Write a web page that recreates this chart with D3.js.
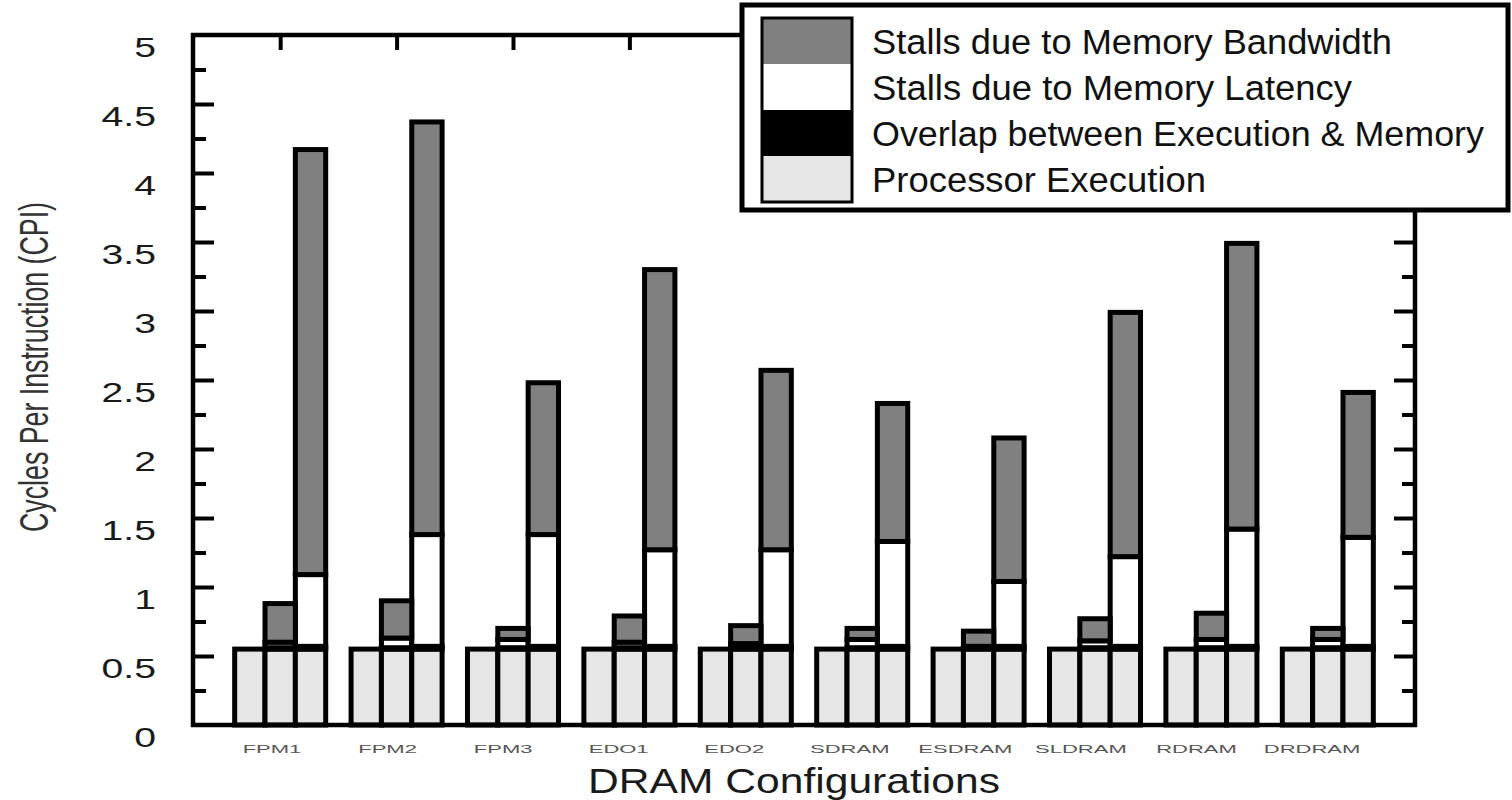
<!DOCTYPE html>
<html>
<head>
<meta charset="utf-8">
<script src="https://cdn.jsdelivr.net/npm/d3@7"></script>
<style>
  html, body { margin: 0; padding: 0; background: #fff; }
  svg { display: block; font-family: "Liberation Sans", Arial, sans-serif; }
</style>
</head>
<body>
<svg id="chart" width="1512" height="800"></svg>
<script>
// DRAM configurations along the x axis
const configs = ["FPM1", "FPM2", "FPM3", "EDO1", "EDO2", "SDRAM", "ESDRAM", "SLDRAM", "RDRAM", "DRDRAM"];
// three bars per configuration
const variants = ["a", "b", "c"];

// CPI components, one value per configuration
const executionA = [0.55, 0.55, 0.55, 0.55, 0.55, 0.55, 0.55, 0.55, 0.55, 0.55];
const overlapA   = [0, 0, 0, 0, 0, 0, 0, 0, 0, 0];
const latencyA   = [0, 0, 0, 0, 0, 0, 0, 0, 0, 0];
const bandwidthA = [0, 0, 0, 0, 0, 0, 0, 0, 0, 0];

const executionB = [0.55, 0.55, 0.55, 0.55, 0.55, 0.55, 0.55, 0.55, 0.55, 0.55];
const overlapB   = [0.01, 0.01, 0.01, 0.01, 0.01, 0.01, 0.02, 0.01, 0.01, 0.01];
const latencyB   = [0.04, 0.07, 0.06, 0.04, 0.03, 0.06, 0.00, 0.05, 0.06, 0.06];
const bandwidthB = [0.28, 0.27, 0.08, 0.19, 0.13, 0.08, 0.11, 0.16, 0.19, 0.08];

const executionC = [0.55, 0.55, 0.55, 0.55, 0.55, 0.55, 0.55, 0.55, 0.55, 0.55];
const overlapC   = [0.02, 0.02, 0.02, 0.02, 0.02, 0.02, 0.02, 0.02, 0.02, 0.02];
const latencyC   = [0.52, 0.81, 0.81, 0.70, 0.70, 0.76, 0.47, 0.65, 0.85, 0.79];
const bandwidthC = [3.08, 2.99, 1.10, 2.03, 1.30, 1.00, 1.04, 1.77, 2.07, 1.05];

const yTicks = [0, 0.5, 1, 1.5, 2, 2.5, 3, 3.5, 4, 4.5, 5];
const yTickLabels = ["0", "0.5", "1", "1.5", "2", "2.5", "3", "3.5", "4", "4.5", "5"];
const yMinorTicks = [0.25, 0.75, 1.25, 1.75, 2.25, 2.75, 3.25, 3.75, 4.25, 4.75];

const seriesKeys = ["execution", "overlap", "latency", "bandwidth"];
const seriesColors = { execution: "#e6e6e6", overlap: "#000000", latency: "#ffffff", bandwidth: "#808080" };
const legendLabels = [
  { key: "bandwidth", text: "Stalls due to Memory Bandwidth", len: 520 },
  { key: "latency", text: "Stalls due to Memory Latency", len: 480 },
  { key: "overlap", text: "Overlap between Execution & Memory", len: 612 },
  { key: "execution", text: "Processor Execution", len: 334 }
];

const bySeries = {
  a: [executionA, overlapA, latencyA, bandwidthA],
  b: [executionB, overlapB, latencyB, bandwidthB],
  c: [executionC, overlapC, latencyC, bandwidthC]
};

// one row per bar
const rows = [];
configs.forEach((cfg, i) => {
  variants.forEach(v => {
    const row = { config: cfg, variant: v };
    seriesKeys.forEach((k, j) => { row[k] = bySeries[v][j][i]; });
    rows.push(row);
  });
});

const svg = d3.select("#chart");
const plot = { left: 193, right: 1415, top: 35, bottom: 725 };

const y = d3.scaleLinear().domain([0, 5]).range([plot.bottom, plot.top]);
const xGroup = d3.scaleBand().domain(configs).range([plot.left, plot.right])
  .paddingInner(0.218).paddingOuter(0.358);
const xBar = d3.scaleBand().domain(variants).range([0, xGroup.bandwidth()]).padding(0);
const xLabel = d3.scalePoint().domain(configs).range([272, 1312]);

// stacked bars
const stacked = d3.stack().keys(seriesKeys)(rows);
const segs = [];
stacked.forEach(layer => {
  layer.forEach(d => {
    if (d[1] - d[0] > 0) segs.push({ key: layer.key, y0: d[0], y1: d[1], row: d.data });
  });
});

svg.append("g").selectAll("rect").data(segs).join("rect")
  .attr("x", d => xGroup(d.row.config) + xBar(d.row.variant))
  .attr("width", xBar.bandwidth())
  .attr("y", d => y(d.y1))
  .attr("height", d => y(d.y0) - y(d.y1))
  .attr("fill", d => seriesColors[d.key])
  .attr("stroke", "#000")
  .attr("stroke-width", 5);

// frame
svg.append("rect")
  .attr("x", plot.left).attr("y", plot.top)
  .attr("width", plot.right - plot.left).attr("height", plot.bottom - plot.top)
  .attr("fill", "none").attr("stroke", "#000").attr("stroke-width", 4.5);

function styleAxis(g) {
  g.select(".domain").remove();
  g.selectAll(".tick line").attr("stroke", "#000").attr("stroke-width", 4);
  g.selectAll(".tick text").remove();
}

// inward ticks on the left and right
svg.append("g").attr("transform", `translate(${plot.left},0)`)
  .call(d3.axisRight(y).tickValues(yTicks.slice(1, -1)).tickSize(21)).call(styleAxis);
svg.append("g").attr("transform", `translate(${plot.left},0)`)
  .call(d3.axisRight(y).tickValues(yMinorTicks).tickSize(13)).call(styleAxis);
svg.append("g").attr("transform", `translate(${plot.right},0)`)
  .call(d3.axisLeft(y).tickValues(yTicks.slice(1, -1)).tickSize(21)).call(styleAxis);
svg.append("g").attr("transform", `translate(${plot.right},0)`)
  .call(d3.axisLeft(y).tickValues(yMinorTicks).tickSize(13)).call(styleAxis);

// ticks hanging from the top edge at each configuration
const xCenter = d3.scalePoint().domain(configs)
  .range([xGroup(configs[0]) + xGroup.bandwidth() / 2, xGroup(configs[configs.length - 1]) + xGroup.bandwidth() / 2]);
svg.append("g").attr("transform", `translate(0,${plot.top})`)
  .call(d3.axisBottom(xCenter).tickSize(15)).call(styleAxis);

// y tick labels
svg.append("g").selectAll("text").data(yTicks).join("text")
  .attr("transform", (d) => `translate(156,${y(d) + 12}) scale(1.45,1)`)
  .attr("text-anchor", "end")
  .attr("dy", "0.36em")
  .attr("font-size", 27)
  .attr("fill", "#1a1a1a")
  .text((d, i) => yTickLabels[i]);

// x tick labels
svg.append("g").selectAll("text").data(configs).join("text")
  .attr("transform", d => `translate(${xLabel(d)},749) scale(2,1)`)
  .attr("text-anchor", "middle")
  .attr("dy", "0.36em")
  .attr("font-size", 11)
  .attr("fill", "#555")
  .text(d => d);

// axis titles
svg.append("text")
  .attr("x", 588).attr("y", 793)
  .attr("font-size", 35)
  .attr("fill", "#1a1a1a")
  .attr("textLength", 412).attr("lengthAdjust", "spacingAndGlyphs")
  .text("DRAM Configurations");

svg.append("text")
  .attr("transform", "translate(48,367) rotate(-90)")
  .attr("text-anchor", "middle")
  .attr("font-size", 40)
  .attr("fill", "#333")
  .attr("textLength", 330).attr("lengthAdjust", "spacingAndGlyphs")
  .text("Cycles Per Instruction (CPI)");

// legend
const legend = svg.append("g");
legend.append("rect")
  .attr("x", 742).attr("y", 5).attr("width", 766).attr("height", 205)
  .attr("fill", "#fff").attr("stroke", "#000").attr("stroke-width", 5);
const swH = 46;
legend.selectAll("rect.sw").data(legendLabels).join("rect")
  .attr("class", "sw")
  .attr("x", 762).attr("y", (d, i) => 18 + i * swH)
  .attr("width", 90).attr("height", swH)
  .attr("fill", d => seriesColors[d.key]);
legend.append("rect")
  .attr("x", 762).attr("y", 18).attr("width", 90).attr("height", swH * 4)
  .attr("fill", "none").attr("stroke", "#000").attr("stroke-width", 3);
legend.selectAll("text").data(legendLabels).join("text")
  .attr("x", 872).attr("y", (d, i) => 18 + i * swH + swH / 2 + 13)
  .attr("font-size", 35.5)
  .attr("fill", "#111")
  .attr("textLength", d => d.len).attr("lengthAdjust", "spacingAndGlyphs")
  .text(d => d.text);
</script>
</body>
</html>
